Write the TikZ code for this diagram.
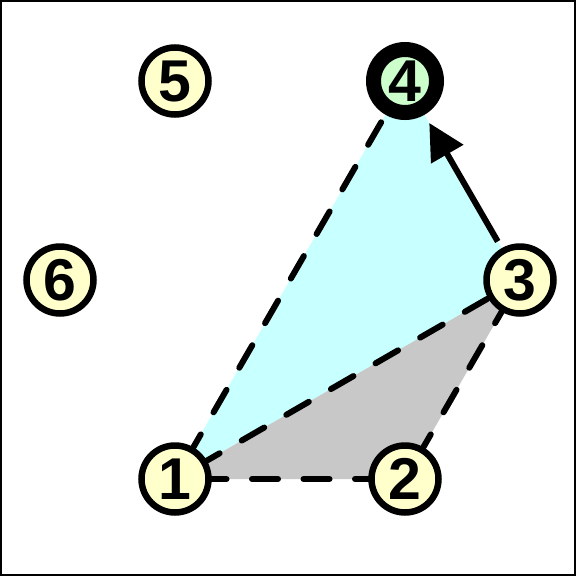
\documentclass[tikz,border=0pt]{standalone}
\usepackage{fontspec}
\setmainfont{Liberation Sans}
\usetikzlibrary{arrows.meta}
\definecolor{nodeyellow}{HTML}{FFFFCC}
\definecolor{nodegreen}{HTML}{CCFFCC}
\definecolor{facecyan}{HTML}{C8FFFF}
\definecolor{facegray}{HTML}{C8C8C8}
\tikzset{
  vert/.style={circle, draw=black, line width=6.5pt, fill=nodeyellow, inner sep=0pt, outer sep=0pt,
    minimum size=67pt, font=\fontsize{59}{59}\selectfont\bfseries},
  vertmark/.style={vert, line width=15pt, minimum size=63pt, fill=nodegreen},
  dashedge/.style={line width=6pt, line cap=round, dash pattern=on 26pt off 25.5pt, dash phase=26pt},
  arrowedge/.style={line width=6pt, -{Triangle[length=36pt,width=36pt]}, shorten <=11pt, shorten >=17pt},
}
\begin{document}
\begin{tikzpicture}[x=1pt,y=-1pt]
\useasboundingbox (0,0) rectangle (576,576);
\draw[line width=2pt] (1,1) rectangle (575,575);
\coordinate (c1) at (175,479);
\coordinate (c2) at (405,479);
\coordinate (c3) at (520,280);
\coordinate (c4) at (405,81);
\coordinate (c5) at (175,81);
\coordinate (c6) at (60,280);
\fill[facecyan] (c1) -- (c3) -- (c4) -- cycle;
\fill[facegray] (c1) -- (c2) -- (c3) -- cycle;
\draw[dashedge] (c1) -- (c2);
\draw[dashedge] (c1) -- (c3);
\draw[dashedge] (c1) -- (c4);
\draw[dashedge] (c2) -- (c3);
\node[vert] (n1) at (c1) {1};
\node[vert] (n2) at (c2) {2};
\node[vert] (n3) at (c3) {3};
\node[vertmark] (n4) at (c4) {4};
\node[vert] (n5) at (c5) {5};
\node[vert] (n6) at (c6) {6};
\draw[arrowedge] (n3) -- (n4);
\end{tikzpicture}
\end{document}
